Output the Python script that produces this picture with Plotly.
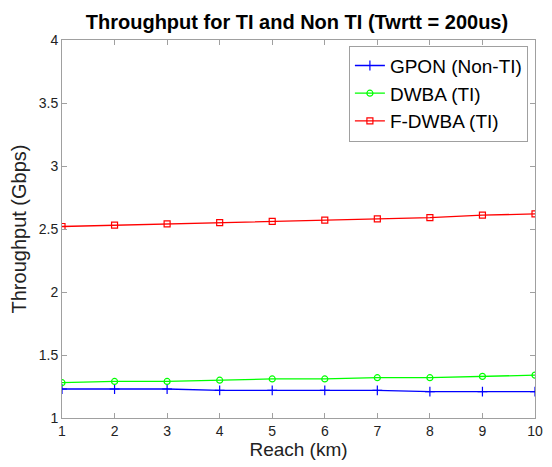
import plotly.graph_objects as go

reach = [1, 2, 3, 4, 5, 6, 7, 8, 9, 10]
gpon = [1.23, 1.23, 1.23, 1.22, 1.22, 1.22, 1.22, 1.21, 1.21, 1.21]
dwba = [1.28, 1.29, 1.29, 1.30, 1.31, 1.31, 1.32, 1.32, 1.33, 1.34]
fdwba = [2.52, 2.53, 2.54, 2.55, 2.56, 2.57, 2.58, 2.59, 2.61, 2.62]

font = "Liberation Sans, Arial, Helvetica, sans-serif"

fig = go.Figure()
fig.add_trace(go.Scatter(x=reach, y=gpon, mode="lines+markers", name="GPON (Non-TI)",
                         line=dict(color="#0000ff", width=1.3),
                         marker=dict(symbol="cross-thin-open", size=7, color="#0000ff",
                                     line=dict(width=1.2, color="#0000ff"))))
fig.add_trace(go.Scatter(x=reach, y=dwba, mode="lines+markers", name="DWBA (TI)",
                         line=dict(color="#00ff00", width=1.3),
                         marker=dict(symbol="circle-open", size=6, color="#00ff00",
                                     line=dict(width=1.2, color="#00ff00"))))
fig.add_trace(go.Scatter(x=reach, y=fdwba, mode="lines+markers", name="F-DWBA (TI)",
                         line=dict(color="#ff0000", width=1.3),
                         marker=dict(symbol="square-open", size=6, color="#ff0000",
                                     line=dict(width=1.2, color="#ff0000"))))

axis_common = dict(showgrid=False, zeroline=False, showline=True, mirror="ticks",
                   linecolor="#a0a0a0", linewidth=1, ticks="inside", ticklen=5,
                   tickcolor="#a0a0a0", tickfont=dict(size=14, color="#222", family=font))

fig.update_layout(
    width=552, height=467,
    margin=dict(l=62, r=9, t=40, b=49),
    paper_bgcolor="white", plot_bgcolor="white",
    title=dict(text="<b>Throughput for TI and Non TI (Twrtt = 200us)</b>", x=0.538, xanchor="center",
               y=0.953, yanchor="middle", font=dict(size=20, color="black", family=font)),
    xaxis=dict(range=[1, 10], tickvals=reach,
               title=dict(text="Reach (km)", font=dict(size=19, color="#222", family=font), standoff=4),
               **axis_common),
    yaxis=dict(range=[1, 4], tickvals=[1, 1.5, 2, 2.5, 3, 3.5, 4],
               ticktext=["1", "1.5", "2", "2.5", "3", "3.5", "4"],
               title=dict(text="Throughput (Gbps)", font=dict(size=20, color="#222", family=font), standoff=6),
               **axis_common),
    legend=dict(x=0.985, y=0.985, xanchor="right", yanchor="top", bgcolor="white",
                bordercolor="#a0a0a0", borderwidth=1, font=dict(size=19, color="black", family=font),
                itemwidth=30, tracegroupgap=0),
    showlegend=True,
)

fig.write_html("out.html")
